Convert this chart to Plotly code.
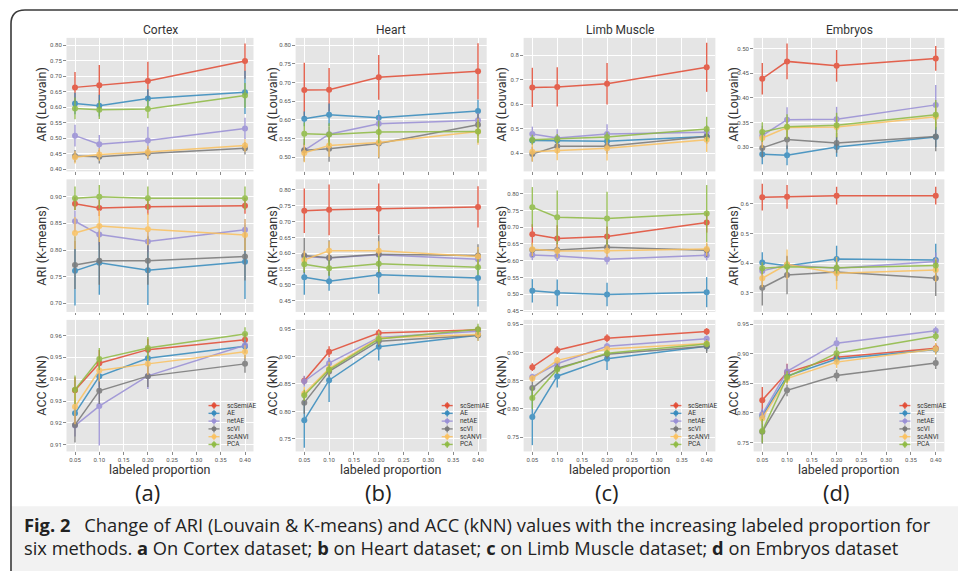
import plotly.graph_objects as go

W, H = 958, 573

methods = ["scSemiAE", "AE", "netAE", "scVI", "scANVI", "PCA"]
colors = ["#E24A33", "#348ABD", "#988ED5", "#777777", "#FBC15E", "#8EBA42"]
proportions = [0.05, 0.10, 0.20, 0.40]
datasets = ["Cortex", "Heart", "Limb Muscle", "Embryos"]
panel_letters = ["(a)", "(b)", "(c)", "(d)"]
metric_titles = ["ARI (Louvain)", "ARI (K-means)", "ACC (kNN)"]
x_tick_vals = [0.05, 0.10, 0.15, 0.20, 0.25, 0.30, 0.35, 0.40]

# ---------------- Row 1: ARI (Louvain) ----------------
cortex_louvain_mean = [[0.664, 0.671, 0.685, 0.749], [0.612, 0.605, 0.628, 0.648], [0.508, 0.480, 0.492, 0.531],
                       [0.442, 0.440, 0.450, 0.467], [0.438, 0.447, 0.455, 0.476], [0.596, 0.592, 0.594, 0.638]]
cortex_louvain_err = [[0.050, 0.065, 0.062, 0.057], [0.035, 0.035, 0.030, 0.070], [0.035, 0.030, 0.045, 0.035],
                      [0.020, 0.022, 0.020, 0.020], [0.020, 0.020, 0.020, 0.020], [0.035, 0.030, 0.030, 0.040]]
heart_louvain_mean = [[0.680, 0.681, 0.714, 0.730], [0.603, 0.614, 0.606, 0.624], [0.519, 0.562, 0.590, 0.599],
                      [0.519, 0.523, 0.537, 0.587], [0.512, 0.532, 0.540, 0.569], [0.563, 0.561, 0.568, 0.569]]
heart_louvain_err = [[0.073, 0.058, 0.060, 0.075], [0.020, 0.030, 0.020, 0.030], [0.020, 0.020, 0.020, 0.020],
                     [0.030, 0.035, 0.040, 0.030], [0.025, 0.030, 0.040, 0.035], [0.030, 0.030, 0.030, 0.030]]
limb_louvain_mean = [[0.669, 0.671, 0.684, 0.751], [0.452, 0.452, 0.449, 0.469], [0.479, 0.463, 0.479, 0.486],
                     [0.397, 0.429, 0.429, 0.469], [0.407, 0.412, 0.421, 0.456], [0.456, 0.459, 0.467, 0.499]]
limb_louvain_err = [[0.080, 0.080, 0.085, 0.100], [0.015, 0.015, 0.015, 0.015], [0.030, 0.035, 0.040, 0.030],
                    [0.030, 0.030, 0.030, 0.030], [0.040, 0.040, 0.050, 0.050], [0.020, 0.020, 0.020, 0.050]]
embryos_louvain_mean = [[0.439, 0.474, 0.465, 0.480], [0.286, 0.284, 0.301, 0.321], [0.324, 0.356, 0.357, 0.386],
                        [0.299, 0.316, 0.309, 0.322], [0.319, 0.340, 0.341, 0.362], [0.331, 0.342, 0.345, 0.366]]
embryos_louvain_err = [[0.032, 0.036, 0.032, 0.025], [0.020, 0.020, 0.020, 0.020], [0.020, 0.025, 0.025, 0.040],
                       [0.020, 0.020, 0.020, 0.030], [0.020, 0.020, 0.020, 0.020], [0.020, 0.025, 0.025, 0.030]]

# ---------------- Row 2: ARI (K-means) ----------------
cortex_kmeans_mean = [[0.887, 0.879, 0.881, 0.883], [0.761, 0.776, 0.762, 0.778], [0.854, 0.829, 0.816, 0.838],
                      [0.772, 0.780, 0.780, 0.788], [0.832, 0.845, 0.839, 0.828], [0.897, 0.900, 0.897, 0.897]]
cortex_kmeans_err = [[0.012, 0.015, 0.015, 0.015], [0.065, 0.060, 0.065, 0.070], [0.020, 0.020, 0.020, 0.020],
                     [0.045, 0.045, 0.045, 0.045], [0.030, 0.030, 0.030, 0.030], [0.022, 0.022, 0.022, 0.022]]
heart_kmeans_mean = [[0.734, 0.737, 0.740, 0.746], [0.524, 0.512, 0.532, 0.522], [0.590, 0.585, 0.595, 0.581],
                     [0.593, 0.586, 0.597, 0.593], [0.579, 0.608, 0.608, 0.590], [0.565, 0.553, 0.567, 0.556]]
heart_kmeans_err = [[0.070, 0.080, 0.080, 0.065], [0.055, 0.030, 0.060, 0.090], [0.020, 0.020, 0.020, 0.020],
                    [0.055, 0.055, 0.060, 0.035], [0.030, 0.030, 0.030, 0.030], [0.025, 0.025, 0.025, 0.025]]
limb_kmeans_mean = [[0.679, 0.666, 0.672, 0.714], [0.510, 0.504, 0.499, 0.506], [0.617, 0.614, 0.604, 0.616],
                    [0.632, 0.632, 0.640, 0.631], [0.634, 0.629, 0.630, 0.635], [0.760, 0.730, 0.726, 0.741]]
limb_kmeans_err = [[0.030, 0.040, 0.030, 0.030], [0.035, 0.040, 0.035, 0.045], [0.015, 0.015, 0.015, 0.015],
                   [0.020, 0.020, 0.020, 0.020], [0.020, 0.020, 0.020, 0.020], [0.060, 0.080, 0.080, 0.085]]
embryos_kmeans_mean = [[0.623, 0.624, 0.628, 0.628], [0.402, 0.391, 0.414, 0.411], [0.374, 0.394, 0.383, 0.406],
                       [0.317, 0.360, 0.370, 0.349], [0.349, 0.396, 0.366, 0.377], [0.383, 0.388, 0.385, 0.392]]
embryos_kmeans_err = [[0.045, 0.040, 0.030, 0.030], [0.035, 0.030, 0.045, 0.055], [0.030, 0.030, 0.030, 0.030],
                      [0.060, 0.065, 0.030, 0.060], [0.030, 0.050, 0.055, 0.040], [0.020, 0.020, 0.020, 0.020]]

# ---------------- Row 3: ACC (kNN) ----------------
cortex_knn_mean = [[0.9349, 0.9473, 0.9535, 0.9580], [0.9244, 0.9413, 0.9496, 0.9550], [0.9188, 0.9277, 0.9415, 0.9555],
                   [0.9191, 0.9347, 0.9414, 0.9470], [0.9274, 0.9440, 0.9470, 0.9525], [0.9352, 0.9492, 0.9543, 0.9607]]
cortex_knn_err = [[0.006, 0.006, 0.005, 0.003], [0.005, 0.005, 0.004, 0.003], [0.005, 0.018, 0.006, 0.003],
                  [0.008, 0.006, 0.005, 0.004], [0.008, 0.005, 0.005, 0.003], [0.0065, 0.005, 0.005, 0.003]]
heart_knn_mean = [[0.856, 0.909, 0.943, 0.949], [0.784, 0.857, 0.918, 0.939], [0.855, 0.888, 0.935, 0.946],
                  [0.816, 0.873, 0.928, 0.939], [0.8325, 0.878, 0.934, 0.9404], [0.8295, 0.876, 0.932, 0.950]]
heart_knn_err = [[0.008, 0.010, 0.007, 0.005], [0.050, 0.040, 0.025, 0.010], [0.010, 0.010, 0.010, 0.010],
                 [0.020, 0.010, 0.010, 0.006], [0.012, 0.012, 0.012, 0.012], [0.010, 0.010, 0.010, 0.010]]
limb_knn_mean = [[0.874, 0.904, 0.925, 0.937], [0.786, 0.858, 0.889, 0.911], [0.8565, 0.880, 0.911, 0.924],
                 [0.837, 0.872, 0.897, 0.911], [0.854, 0.886, 0.906, 0.916], [0.8196, 0.870, 0.8986, 0.915]]
limb_knn_err = [[0.007, 0.007, 0.007, 0.006], [0.050, 0.020, 0.020, 0.008], [0.006, 0.006, 0.006, 0.006],
                [0.020, 0.010, 0.008, 0.012], [0.006, 0.006, 0.006, 0.006], [0.020, 0.008, 0.006, 0.006]]
embryos_knn_mean = [[0.8215, 0.868, 0.894, 0.909], [0.7947, 0.862, 0.891, 0.907], [0.7975, 0.870, 0.9176, 0.9388],
                    [0.768, 0.838, 0.863, 0.884], [0.791, 0.8578, 0.8857, 0.908], [0.7695, 0.8606, 0.9008, 0.9293]]
embryos_knn_err = [[0.022, 0.015, 0.008, 0.008], [0.010, 0.010, 0.008, 0.008], [0.010, 0.012, 0.010, 0.007],
                   [0.020, 0.010, 0.010, 0.010], [0.010, 0.010, 0.010, 0.010], [0.020, 0.010, 0.010, 0.008]]

panels = [
    [(cortex_louvain_mean, cortex_louvain_err), (heart_louvain_mean, heart_louvain_err),
     (limb_louvain_mean, limb_louvain_err), (embryos_louvain_mean, embryos_louvain_err)],
    [(cortex_kmeans_mean, cortex_kmeans_err), (heart_kmeans_mean, heart_kmeans_err),
     (limb_kmeans_mean, limb_kmeans_err), (embryos_kmeans_mean, embryos_kmeans_err)],
    [(cortex_knn_mean, cortex_knn_err), (heart_knn_mean, heart_knn_err),
     (limb_knn_mean, limb_knn_err), (embryos_knn_mean, embryos_knn_err)],
]

# axis styling (ranges/ticks per panel)
y_axes_cfg = [
    [([0.3925, 0.824], 0.40, 0.05, ".2f"), ([0.4625, 0.8196], 0.50, 0.05, ".2f"),
     ([0.3265, 0.871], 0.4, 0.1, ".1f"), ([0.2514, 0.5216], 0.30, 0.05, ".2f")],
    [([0.684, 0.9325], 0.70, 0.05, ".2f"), ([0.415, 0.833], 0.45, 0.05, ".2f"),
     ([0.447, 0.843], 0.45, 0.05, ".2f"), ([0.2355, 0.683], 0.3, 0.1, ".1f")],
    [([0.907, 0.9671], 0.91, 0.01, ".2f"), ([0.7271, 0.9669], 0.75, 0.05, ".2f"),
     ([0.7249, 0.9576], 0.75, 0.05, ".2f"), ([0.7349, 0.957], 0.75, 0.05, ".2f")],
]

col_px = [(66.5, 253.5), (295.6, 486.7), (523.6, 715.4), (753.6, 944.4)]
row_px = [(38, 172), (180, 313), (321, 453)]
ytitle_x = [42, 273, 502, 734]


def fx(px):
    return px / W


def fy(py):
    return 1 - py / H


fig = go.Figure()
layout = dict(width=W, height=H, margin=dict(l=0, r=0, t=0, b=0),
              paper_bgcolor="white", plot_bgcolor="#E5E5E5", showlegend=False)
annotations = []
shapes = []

# background / frame
shapes.append(dict(type="rect", xref="paper", yref="paper", x0=fx(11), x1=1, y0=0, y1=fy(508),
                   fillcolor="#f2f2f2", line=dict(width=0), layer="below"))
frame_path = "M {a},{b} L {a},{c} Q {a},{d} {e},{d} L {f},{d}".format(
    a=fx(11), b=fy(573), c=fy(24), d=fy(10), e=fx(25), f=1.0)
shapes.append(dict(type="path", xref="paper", yref="paper", path=frame_path,
                   line=dict(color="#3a3a3a", width=1.6)))

tick_font = dict(family="Roboto", size=6, color="#555555")


def note(x, y, text, size, family="Roboto", color="#333333", xanchor="center", angle=0):
    return dict(x=fx(x), y=fy(y), xref="paper", yref="paper", text=text, showarrow=False,
                xanchor=xanchor, yanchor="middle", textangle=angle,
                font=dict(family=family, size=size, color=color))


for r in range(3):
    for c in range(4):
        k = r * 4 + c + 1
        xa = "xaxis" if k == 1 else f"xaxis{k}"
        ya = "yaxis" if k == 1 else f"yaxis{k}"
        xs = "x" if k == 1 else f"x{k}"
        ys = "y" if k == 1 else f"y{k}"
        L, R = col_px[c]
        T, B = row_px[r]
        yrange, y0, dy, yfmt = y_axes_cfg[r][c]
        layout[xa] = dict(domain=[fx(L), fx(R)], anchor=ys, range=[0.0325, 0.4175],
                          tickvals=x_tick_vals, tickformat=".2f", showticklabels=(r == 2),
                          ticks="outside", ticklen=2.5, tickcolor="#8a8a8a", tickwidth=0.8,
                          showgrid=True, gridcolor="white", gridwidth=0.8, zeroline=False,
                          showline=False, tickfont=tick_font)
        layout[ya] = dict(domain=[fy(B), fy(T)], anchor=xs, range=yrange, tick0=y0, dtick=dy,
                          tickformat=yfmt, ticks="outside", ticklen=2.5, tickcolor="#8a8a8a",
                          tickwidth=0.8, showgrid=True, gridcolor="white", gridwidth=0.8,
                          zeroline=False, showline=False, tickfont=tick_font)
        means, errs = panels[r][c]
        for i, m in enumerate(methods):
            fig.add_trace(go.Scatter(
                x=proportions, y=means[i], mode="lines+markers", name=m,
                xaxis=xs, yaxis=ys, opacity=0.85,
                line=dict(color=colors[i], width=1.5),
                marker=dict(color=colors[i], size=6),
                error_y=dict(type="data", array=errs[i], visible=True, width=0,
                             thickness=1.4, color=colors[i]),
            ))
        annotations.append(note(ytitle_x[c], (T + B) / 2, metric_titles[r], 12.5, angle=-90))

for c in range(4):
    L, R = col_px[c]
    cx = (L + R) / 2
    annotations.append(note(cx, 30, datasets[c], 12))
    annotations.append(note(cx, 471.5, "labeled proportion", 12.5))
    annotations.append(note(cx - 13, 494, panel_letters[c], 22, family="Open Sans", color="#222222"))
    # manual legend (lower right of the kNN panel)
    lx0 = R - 45
    for i, m in enumerate(methods):
        ly = 407 + i * 7.8
        shapes.append(dict(type="line", xref="paper", yref="paper", x0=fx(lx0), x1=fx(lx0 + 11),
                           y0=fy(ly), y1=fy(ly), line=dict(color=colors[i], width=1.4), opacity=0.85))
        shapes.append(dict(type="line", xref="paper", yref="paper", x0=fx(lx0 + 5.5), x1=fx(lx0 + 5.5),
                           y0=fy(ly - 3.5), y1=fy(ly + 3.5), line=dict(color=colors[i], width=1.2), opacity=0.85))
        shapes.append(dict(type="circle", xref="paper", yref="paper", x0=fx(lx0 + 3), x1=fx(lx0 + 8),
                           y0=fy(ly + 2.5), y1=fy(ly - 2.5), fillcolor=colors[i],
                           line=dict(color=colors[i], width=0), opacity=0.9))
        annotations.append(note(lx0 + 16, ly, m, 6.5, xanchor="left"))

caption1 = "<b>Fig. 2</b>\u2002 Change of ARI (Louvain & K-means) and ACC (kNN) values with the increasing labeled proportion for"
caption2 = ("six methods. <b>a</b> On Cortex dataset; <b>b</b> on Heart dataset; "
            "<b>c</b> on Limb Muscle dataset; <b>d</b> on Embryos dataset")
annotations.append(note(22, 526, caption1, 18.3, family="Open Sans", color="#222222", xanchor="left"))
annotations.append(note(22, 549, caption2, 18.3, family="Open Sans", color="#222222", xanchor="left"))

layout["annotations"] = annotations
layout["shapes"] = shapes
fig.update_layout(**layout)
fig.write_html("out.html", config={"displayModeBar": False},
               post_script="document.body.style.margin='0px';document.body.style.overflow='hidden';")
